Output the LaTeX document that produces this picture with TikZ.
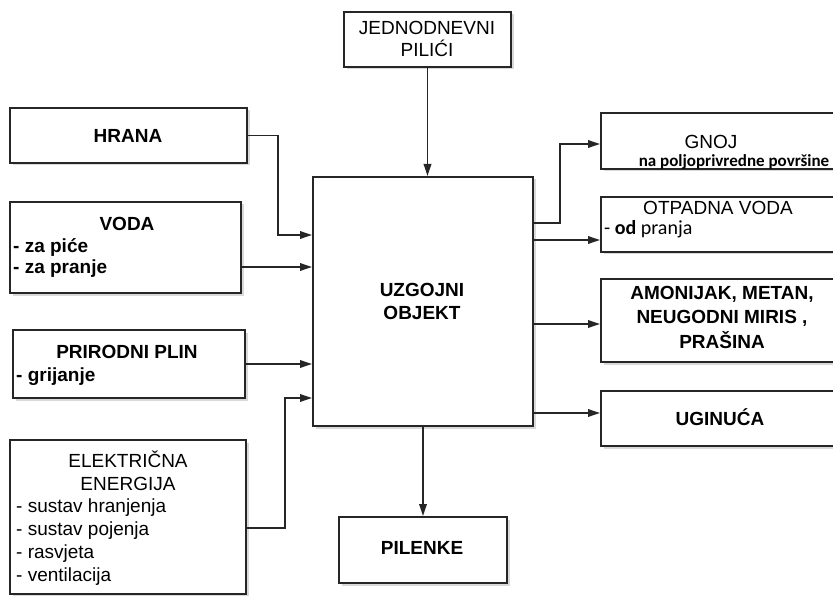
\documentclass[tikz,border=0pt]{standalone}
\usepackage{fontspec}
\setmainfont{Liberation Sans}
\newfontfamily\carlito{Carlito}
\usetikzlibrary{arrows.meta,shadows}
\begin{document}
\begin{tikzpicture}[x=1pt,y=-1pt,
  box/.style={draw=black!85, line width=2pt, fill=white, inner sep=0pt,
    drop shadow={shadow xshift=2.5pt,shadow yshift=-2.5pt,opacity=0.3}},
  arr/.style={line width=1.8pt, draw=black!85, -{Triangle[length=12pt,width=7.5pt]}},
  treg/.style={font=\fontsize{19}{22.5}\selectfont, align=center, inner sep=0pt},
  tbold/.style={font=\fontsize{19}{23}\selectfont\bfseries, align=center, inner sep=0pt},
  lreg/.style={font=\fontsize{19}{23}\selectfont, anchor=west, inner sep=0pt},
  lbold/.style={font=\fontsize{19}{23}\selectfont\bfseries, anchor=west, inner sep=0pt},
]
\useasboundingbox (0,0) rectangle (833,596);
\clip (0,0) rectangle (833,596);

% boxes
\node[box, minimum width=167, minimum height=55] (jed) at (427.5,39.5) {};
\node[box, minimum width=237, minimum height=55] (hrana) at (128.5,135.5) {};
\node[box, minimum width=231, minimum height=91] (voda) at (125.5,247.5) {};
\node[box, minimum width=232, minimum height=68] (plin) at (129,364) {};
\node[box, minimum width=236, minimum height=154] (elek) at (128,517) {};
\node[box, minimum width=220, minimum height=249] (main) at (423,301.5) {};
\node[box, minimum width=168, minimum height=66] (pil) at (423,550) {};
\node[box, minimum width=244, minimum height=56] (gnoj) at (723,141) {};
\node[box, minimum width=244, minimum height=55] (otp) at (723,224.5) {};
\node[box, minimum width=244, minimum height=83] (amon) at (723,320.5) {};
\node[box, minimum width=244, minimum height=55] (ugin) at (723,418.5) {};

% texts
\node[treg] (tjed) at (427,39) {JEDNODNEVNI\\PILIĆI};
\node[tbold] (thrana) at (128,136) {HRANA};
\node[tbold] (tvoda) at (127,224) {VODA};
\node[lbold] (tvoda1) at (13,248) {- za piće};
\node[lbold] (tvoda2) at (13,269) {- za pranje};
\node[tbold] (tplin) at (127,352) {PRIRODNI PLIN};
\node[lbold] (tplin1) at (16,377) {- grijanje};
\node[treg] (telek) at (128,471) {ELEKTRIČNA\\ENERGIJA};
\node[lreg] (telek1) at (16,508) {- sustav hranjenja};
\node[lreg] (telek2) at (16,531) {- sustav pojenja};
\node[lreg] (telek3) at (16,554) {- rasvjeta};
\node[lreg] (telek4) at (16,577) {- ventilacija};
\node[tbold] (tmain) at (422,301.5) {UZGOJNI\\OBJEKT};
\node[tbold] (tpil) at (422,548) {PILENKE};
\node[treg] (tgnoj) at (711,142) {GNOJ};
\node[font=\fontsize{17}{20}\selectfont\carlito\bfseries, inner sep=0pt] (tgnoj1) at (734,162) {na poljoprivredne površine};
\node[treg] (totp) at (718,208) {OTPADNA VODA};
\node[font=\fontsize{20}{23}\selectfont\carlito, anchor=west, inner sep=0pt] (totp1) at (604,229) {- \textbf{od} pranja};
\node[font=\fontsize{19}{24.5}\selectfont\bfseries, align=center, inner sep=0pt] (tamon) at (722,317) {AMONIJAK, METAN,\\NEUGODNI MIRIS ,\\PRAŠINA};
\node[tbold] (tugin) at (720,417) {UGINUĆA};

% connector points
\coordinate (h1) at (278,235);
\coordinate (v1) at (241,267);
\coordinate (e0) at (246,528);
\coordinate (e1) at (285,398);
\coordinate (g0) at (533,223);
\coordinate (g1) at (560,144);
\coordinate (o0) at (533,240);
\coordinate (a0) at (533,324);
\coordinate (u0) at (533,413);

% connectors
\draw[arr] (jed.south) -- (jed.south |- main.north);
\draw[arr] (hrana.east) -| (h1) -- (h1 -| main.west);
\draw[arr] (v1) -- (v1 -| main.west);
\draw[arr] (plin.east) -- (plin.east -| main.west);
\draw[arr] (e0) -| (e1) -- (e1 -| main.west);
\draw[arr] (main.south) -- (pil.north);
\draw[arr] (g0) -| (g1) -- (g1 -| gnoj.west);
\draw[arr] (o0) -- (o0 -| otp.west);
\draw[arr] (a0) -- (a0 -| amon.west);
\draw[arr] (u0) -- (u0 -| ugin.west);
\end{tikzpicture}
\end{document}
